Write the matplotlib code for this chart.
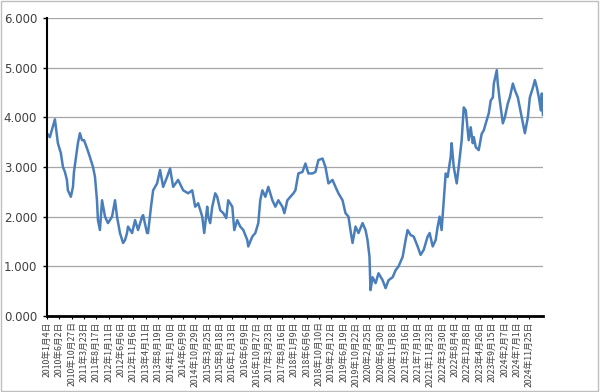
import matplotlib
matplotlib.use('Agg')
import matplotlib.pyplot as plt
from matplotlib.patches import Rectangle

# trading-day index and value
day = [0, 24, 41, 65, 89, 113, 130, 146, 162, 170, 194, 211, 219, 243, 251, 267, 284, 300,
       324, 348, 373, 389, 405, 413, 429, 446, 470, 494, 527, 551, 567, 591, 616, 632, 648,
       656, 689, 713, 737, 770, 778, 810, 818, 842, 859, 891, 915, 940, 972, 996, 1021,
       1061, 1102, 1142, 1175, 1199, 1223, 1256, 1272, 1296, 1304, 1320, 1337, 1361, 1377,
       1401, 1426, 1450, 1466, 1499, 1515, 1539, 1563, 1588, 1620, 1628, 1661, 1685, 1709,
       1725, 1742, 1766, 1790, 1823, 1847, 1871, 1904, 1920, 1944, 1968, 1993, 2009, 2033,
       2066, 2090, 2114, 2147, 2171, 2195, 2228, 2252, 2276, 2309, 2333, 2357, 2390, 2414,
       2438, 2454, 2471, 2495, 2519, 2552, 2576, 2592, 2608, 2616, 2633, 2657, 2681, 2714,
       2738, 2762, 2795, 2819, 2843, 2876, 2900, 2916, 2940, 2965, 2997, 3021, 3046, 3078,
       3094, 3119, 3143, 3159, 3175, 3191, 3208, 3224, 3240, 3248, 3264, 3272, 3289, 3313,
       3329, 3353, 3370, 3386, 3402, 3410, 3426, 3443, 3451, 3467, 3491, 3515, 3532, 3548,
       3572, 3588, 3605, 3613, 3637, 3645, 3661, 3686, 3702, 3726, 3742, 3767, 3783, 3807,
       3823, 3848, 3864, 3888, 3904, 3929, 3945, 3961, 3977, 3993, 4001, 4010]
value = [3.68, 3.60, 3.75, 3.96, 3.48, 3.28, 3.00, 2.90, 2.74, 2.53, 2.40, 2.60, 2.90, 3.34,
         3.48, 3.68, 3.54, 3.54, 3.38, 3.20, 3.00, 2.80, 2.33, 1.93, 1.73, 2.33, 2.00, 1.87,
         2.00, 2.33, 2.00, 1.67, 1.47, 1.53, 1.67, 1.80, 1.67, 1.93, 1.73, 2.00, 2.03, 1.67,
         1.67, 2.20, 2.53, 2.67, 2.94, 2.60, 2.80, 2.97, 2.60, 2.74, 2.53, 2.47, 2.53, 2.20,
         2.27, 2.00, 1.67, 2.20, 2.00, 1.87, 2.20, 2.47, 2.40, 2.13, 2.07, 1.97, 2.33, 2.20,
         1.73, 1.93, 1.80, 1.73, 1.53, 1.40, 1.60, 1.67, 1.87, 2.33, 2.53, 2.40, 2.60, 2.33,
         2.20, 2.33, 2.20, 2.07, 2.33, 2.40, 2.47, 2.53, 2.87, 2.90, 3.07, 2.87, 2.87, 2.90,
         3.14, 3.17, 3.00, 2.67, 2.74, 2.60, 2.47, 2.33, 2.07, 2.00, 1.73, 1.47, 1.80, 1.67,
         1.87, 1.73, 1.53, 1.19, 0.52, 0.78, 0.66, 0.86, 0.72, 0.56, 0.72, 0.78, 0.92, 1.00,
         1.19, 1.53, 1.73, 1.63, 1.60, 1.40, 1.23, 1.33, 1.60, 1.67, 1.40, 1.53, 1.80, 2.00,
         1.73, 2.33, 2.87, 2.80, 2.94, 3.20, 3.48, 3.00, 2.67, 3.00, 3.54, 4.20, 4.14, 3.74,
         3.54, 3.80, 3.48, 3.60, 3.40, 3.34, 3.67, 3.74, 3.88, 4.08, 4.34, 4.40, 4.68, 4.95,
         4.68, 4.34, 3.88, 4.00, 4.28, 4.40, 4.68, 4.55, 4.40, 4.20, 3.88, 3.68, 4.00, 4.40,
         4.60, 4.75, 4.60, 4.40, 4.14, 4.48, 4.05]

tick_labels = ['2010年1月4日', '2010年6月2日', '2010年10月27日', '2011年3月23日', '2011年8月17日',
               '2012年1月11日', '2012年6月6日', '2012年11月6日', '2013年4月11日', '2013年8月19日',
               '2014年1月10日', '2014年6月9日', '2014年10月29日', '2015年3月25日', '2015年8月18日',
               '2016年1月13日', '2016年6月9日', '2016年10月27日', '2017年3月23日', '2017年8月16日',
               '2018年1月9日', '2018年6月6日', '2018年10月10日', '2019年2月12日', '2019年6月19日',
               '2019年10月22日', '2020年2月25日', '2020年6月30日', '2020年11月8日', '2021年3月16日',
               '2021年7月19日', '2021年11月23日', '2022年3月30日', '2022年8月4日', '2022年12月8日',
               '2023年4月26日', '2023年9月15日', '2024年2月7日', '2024年7月1日', '2024年11月25日']
tick_pos = [i * 100 for i in range(len(tick_labels))]
y_ticks = [0, 1, 2, 3, 4, 5, 6]

fig = plt.figure(figsize=(6.0, 3.92), dpi=100)
ax = fig.add_axes([0.078, 0.194, 0.827, 0.76])
fig.patches.append(Rectangle((0.002, 0.003), 0.995, 0.994, transform=fig.transFigure,
                             fill=False, edgecolor='#bfbfbf', linewidth=1))

ax.plot(day, value, color='#4a7ebb', linewidth=1.8, solid_joinstyle='round')

ax.set_xlim(-0.5, 4010.5)
ax.set_ylim(0, 6)
ax.set_yticks(y_ticks)
ax.set_yticklabels([f"{v:.3f}" for v in y_ticks], fontsize=8.5, color='#404040')
ax.set_xticks(tick_pos)
ax.set_xticklabels(tick_labels, rotation=90, fontsize=6.3, color='#404040',
                   family=['Noto Sans CJK JP', 'DejaVu Sans'])
ax.grid(axis='y', color='#a6a6a6', linewidth=0.9)
ax.set_axisbelow(True)
for s in ['top', 'right']:
    ax.spines[s].set_visible(False)
ax.spines['left'].set_linewidth(1.5)
ax.spines['bottom'].set_linewidth(2)
ax.tick_params(axis='y', length=3, width=1, pad=4)
ax.tick_params(axis='x', length=2, width=0.8, pad=2)

plt.savefig('out.png', dpi=100)
